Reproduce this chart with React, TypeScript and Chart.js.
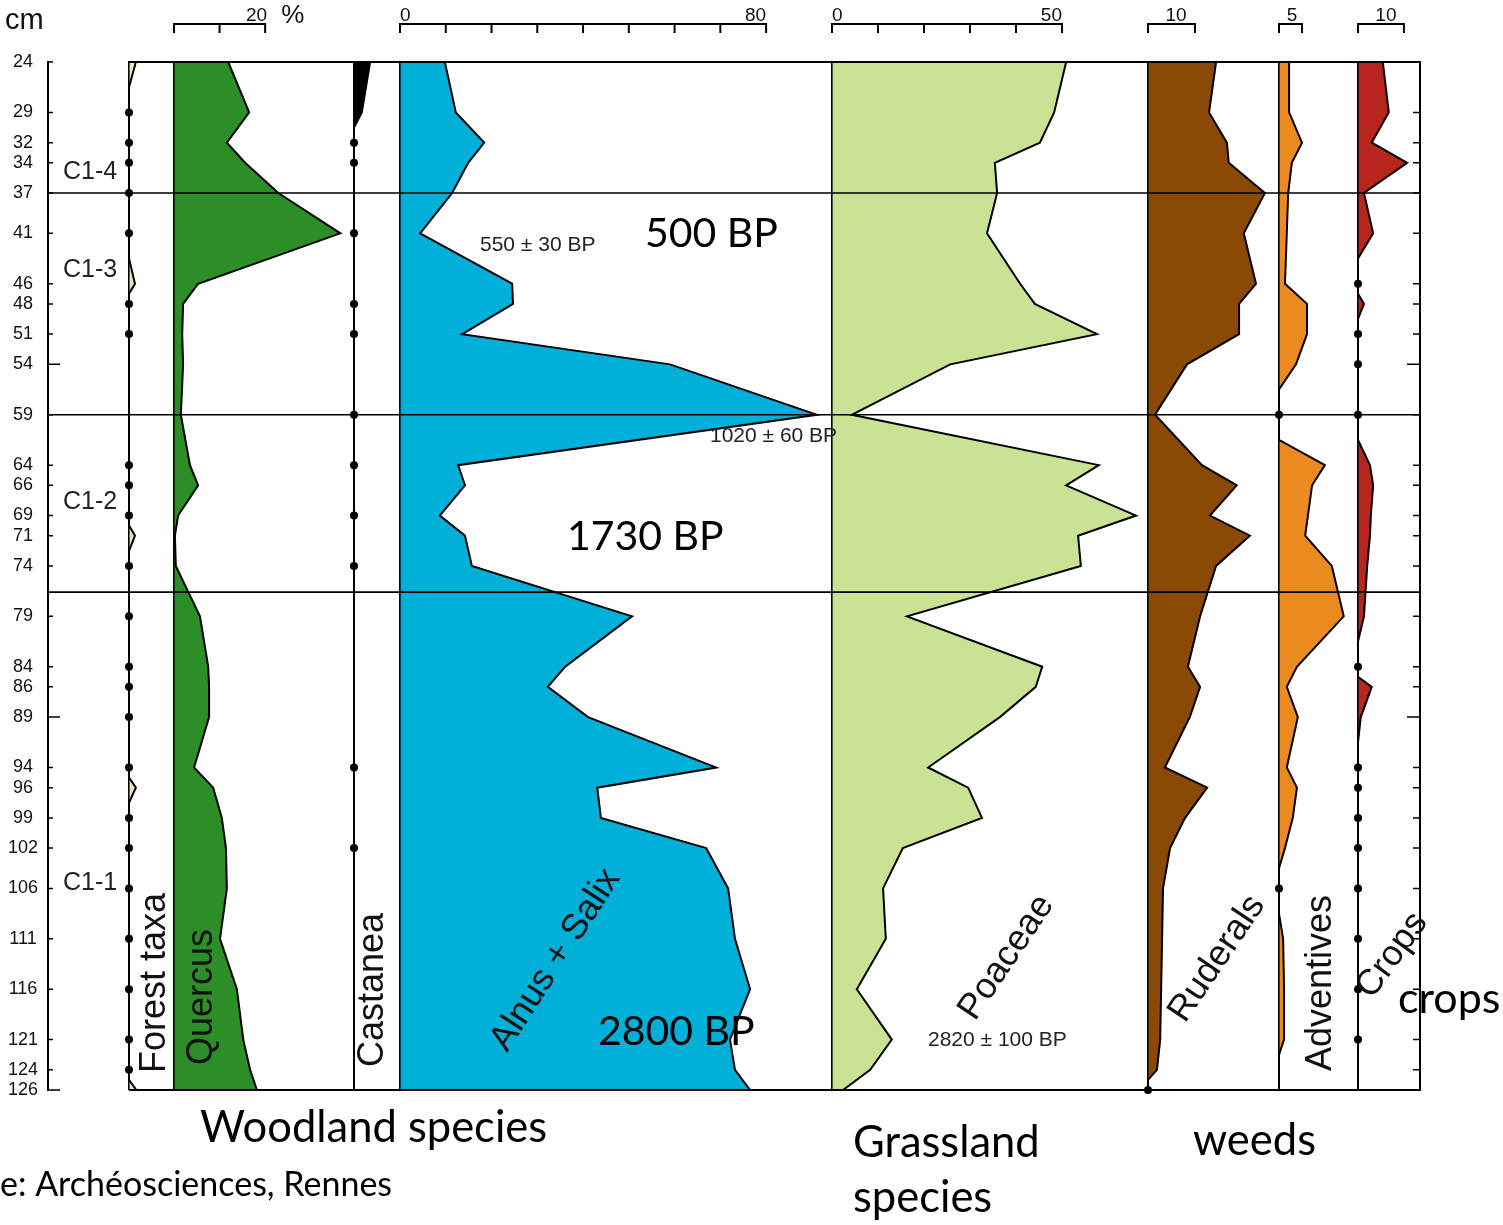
import React, { useEffect, useRef } from "react";
import { Chart, registerables } from "chart.js";

Chart.register(...registerables);

// ---------------- DATA ----------------
const depths = [24, 29, 32, 34, 37, 41, 46, 48, 51, 54, 59, 64, 66, 69, 71, 74, 79, 84, 86, 89, 94, 96, 99, 102, 106, 111, 116, 121, 124, 126];
const longTickDepths = [54, 89, 126];

const forestTaxa = [1.5, 0, 0, 0, 0, 0, 1.3, 0, 0, 0, 0, 0, 0, 0, 1.3, 0, 0, 0, 0, 0, 0, 1.5, 0, 0, 0, 0, 0, 0, 0, 1.6];
const quercus = [11.9, 16.5, 11.6, 15.6, 22.9, 36.5, 5.3, 2.0, 1.8, 2.0, 1.5, 3.5, 5.3, 0.9, 0.2, 0.4, 5.7, 7.5, 7.7, 7.7, 4.4, 8.6, 10.5, 11.4, 11.6, 10.1, 13.8, 15.2, 16.7, 18.2];
const castanea = [3.5, 1.7, 0, 0, 0, 0, 0, 0, 0, 0, 0, 0, 0, 0, 0, 0, 0, 0, 0, 0, 0, 0, 0, 0, 0, 0, 0, 0, 0, 0];
const alnusSalix = [9.8, 12.2, 18.4, 14.9, 11.4, 4.4, 24.5, 24.7, 13.6, 59.0, 91.1, 12.7, 14.2, 8.7, 14.2, 15.7, 50.7, 36.1, 32.3, 41.1, 69.1, 43.1, 43.9, 66.9, 71.7, 73.2, 76.5, 72.1, 73.2, 76.5];
const poaceae = [50.9, 48.3, 45.2, 35.4, 35.9, 33.7, 40.9, 44.1, 57.6, 25.7, 4.3, 58.0, 50.9, 66.1, 53.5, 54.1, 16.3, 45.7, 44.3, 36.5, 20.9, 29.6, 32.6, 15.4, 11.1, 11.7, 5.4, 13.0, 8.3, 2.4];
const ruderals = [14.5, 13.0, 16.8, 17.2, 24.9, 20.4, 23.0, 19.4, 19.4, 8.3, 1.5, 11.5, 18.9, 13.2, 21.7, 14.5, 11.1, 8.5, 11.1, 8.9, 3.6, 12.6, 7.9, 4.7, 3.2, 3.0, 2.8, 2.6, 1.9, 0];
const adventives = [2.2, 2.2, 5.0, 2.8, 2.0, 1.7, 1.3, 6.1, 6.1, 3.7, 0, 10.0, 7.2, 6.3, 5.7, 11.5, 14.1, 3.9, 1.7, 4.1, 1.7, 3.9, 3.0, 1.3, 0, 0.9, 1.1, 1.1, 0, 0];
const crops = [5.4, 6.7, 3.0, 10.7, 1.3, 3.3, 0, 1.3, 0, 0, 0, 2.6, 3.3, 2.8, 2.6, 2.0, 1.3, 0, 3.0, 0.6, 0, 0, 0, 0, 0, 0, 0, 0, 0, 0];

// depths where the taxon is present only as a trace (dot)
const forestTraces = [29, 32, 34, 37, 41, 48, 51, 64, 66, 69, 74, 79, 84, 86, 89, 94, 99, 102, 106, 111, 116, 121, 124];
const castaneaTraces = [32, 34, 41, 48, 51, 59, 64, 69, 74, 94, 102];
const ruderalsTraces = [126];
const adventivesTraces = [59, 106];
const cropsTraces = [46, 51, 54, 59, 84, 94, 96, 99, 102, 106, 111, 116, 121];

const zoneBounds = [37, 59, 76.6];
const zoneNames = ["C1-4", "C1-3", "C1-2", "C1-1"];
const zoneLabelDepths = [34.9, 44.6, 67.7, 105.5];

const quercusTicks = [0, 10, 20];
const alnusTicks = [0, 10, 20, 30, 40, 50, 60, 70, 80];
const poaceaeTicks = [0, 10, 20, 30, 40, 50];
const ruderalsTicks = [0, 10];
const adventivesTicks = [0, 5];
const cropsTicks = [0, 10];

const dateLabels = ["550 ± 30 BP", "1020 ± 60 BP", "2820 ± 100 BP"];
const periodLabels = ["500 BP", "1730 BP", "2800 BP"];

// ---------------- LAYOUT ----------------
type Col = {
  id: string; name: string; weight: number; max: number; color?: string;
  values?: number[]; traces?: number[]; ticks: number[]; labeled: number[];
  align?: string; labelOffset?: number; axisLine?: boolean;
};

const columns: Col[] = [
  { id: "xZones", name: "", weight: 81, max: 1, ticks: [], labeled: [] },
  { id: "xForest", name: "Forest taxa", weight: 45, max: 9.8, color: "#EFE4B8", values: forestTaxa, traces: forestTraces, ticks: [0], labeled: [] },
  { id: "xQuercus", name: "Quercus", weight: 180, max: 39.5, color: "#2C8E26", values: quercus, traces: [], ticks: quercusTicks, labeled: [20], align: "end", labelOffset: 2, axisLine: true },
  { id: "xCastanea", name: "Castanea", weight: 46, max: 10, color: "#000000", values: castanea, traces: castaneaTraces, ticks: [0], labeled: [] },
  { id: "xAlnus", name: "Alnus + Salix", weight: 432, max: 94.4, color: "#00B0D8", values: alnusSalix, traces: [], ticks: alnusTicks, labeled: [0, 80], align: "inner", labelOffset: 0, axisLine: true },
  { id: "xPoaceae", name: "Poaceae", weight: 316, max: 68.7, color: "#C9E294", values: poaceae, traces: [], ticks: poaceaeTicks, labeled: [0, 50], align: "inner", labelOffset: 0, axisLine: true },
  { id: "xRuderals", name: "Ruderals", weight: 131, max: 27.9, color: "#8A4A06", values: ruderals, traces: ruderalsTraces, ticks: ruderalsTicks, labeled: [10], align: "center", labelOffset: -19, axisLine: true },
  { id: "xAdventives", name: "Adventives", weight: 79, max: 17.2, color: "#EB8A1E", values: adventives, traces: adventivesTraces, ticks: adventivesTicks, labeled: [5], align: "center", labelOffset: -10, axisLine: true },
  { id: "xCrops", name: "Crops", weight: 62, max: 13.5, color: "#B7261D", values: crops, traces: cropsTraces, ticks: cropsTicks, labeled: [10], align: "center", labelOffset: -18, axisLine: true },
];

// column-name label placement (offset from column baseline, start y, angle in degrees)
const nameLayout: Record<string, [number, number, number]> = {
  xForest: [36, 1073, -90],
  xQuercus: [38, 1065, -90],
  xCastanea: [29, 1067, -90],
  xAlnus: [107, 1053, -57],
  xPoaceae: [143, 1022, -56],
  xRuderals: [37, 1024, -56],
  xAdventives: [52, 1071, -90],
  xCrops: [14, 1000, -54],
};

function curve(values: number[]) {
  const pts: { x: number; y: number }[] = [];
  for (let i = 0; i < depths.length; i++) {
    const v = values[i];
    if (i > 0) {
      const pv = values[i - 1];
      if ((pv === 0) !== (v === 0)) pts.push({ x: 0, y: (depths[i - 1] + depths[i]) / 2 });
    }
    pts.push({ x: v, y: depths[i] });
  }
  return pts;
}

const SANS = "'Liberation Sans', Arial, sans-serif";
const LATO = "Lato, 'Open Sans', sans-serif";

function txt(ctx: CanvasRenderingContext2D, s: string, x: number, y: number, font: string, opts: { align?: CanvasTextAlign; baseline?: CanvasTextBaseline; color?: string; angle?: number } = {}) {
  ctx.save();
  ctx.font = font;
  ctx.fillStyle = opts.color || "#000";
  ctx.textAlign = opts.align || "left";
  ctx.textBaseline = opts.baseline || "alphabetic";
  ctx.translate(x, y);
  if (opts.angle) ctx.rotate((opts.angle * Math.PI) / 180);
  ctx.fillText(s, 0, 0);
  ctx.restore();
}

const decor = {
  id: "decor",
  afterDraw(chart: any) {
    const ctx: CanvasRenderingContext2D = chart.ctx;
    const { left, right, bottom } = chart.chartArea;
    const ys = chart.scales.y;
    ctx.save();
    ctx.strokeStyle = "#000";
    ctx.lineCap = "butt";

    // top percentage axes
    ctx.lineWidth = 2;
    for (const c of columns) {
      if (!c.axisLine) continue;
      const s = chart.scales[c.id];
      const xs = c.ticks.map((v) => s.getPixelForValue(v));
      ctx.beginPath();
      ctx.moveTo(xs[0] - 1, 24);
      ctx.lineTo(xs[xs.length - 1] + 1, 24);
      for (const x of xs) {
        ctx.moveTo(x, 24);
        ctx.lineTo(x, 33);
      }
      ctx.stroke();
    }

    // bottom frame
    const fl = chart.scales.xForest.left;
    ctx.lineWidth = 2;
    ctx.beginPath();
    ctx.moveTo(fl, bottom);
    ctx.lineTo(right + 1, bottom);
    ctx.stroke();

    // depth ticks (inward, both sides)
    ctx.lineWidth = 1.5;
    ctx.beginPath();
    for (const d of depths) {
      const py = ys.getPixelForValue(d);
      const long = longTickDepths.includes(d);
      ctx.moveTo(left, py);
      ctx.lineTo(left + (long ? 12 : 5), py);
      ctx.moveTo(right, py);
      ctx.lineTo(right - (long ? 13 : 7), py);
    }
    ctx.stroke();

    // zone boundaries
    ctx.lineWidth = 1.6;
    ctx.beginPath();
    for (const z of zoneBounds) {
      const py = ys.getPixelForValue(z);
      ctx.moveTo(left, py);
      ctx.lineTo(right, py);
    }
    ctx.stroke();
    ctx.restore();

    // zone names
    zoneNames.forEach((n, i) => {
      txt(ctx, n, left + 15, ys.getPixelForValue(zoneLabelDepths[i]), `25px ${SANS}`, { baseline: "middle", color: "#222" });
    });

    // column names
    for (const c of columns) {
      const l = nameLayout[c.id];
      if (!l) continue;
      const s = chart.scales[c.id];
      txt(ctx, c.name, s.left + l[0], l[1], `36px ${SANS}`, { angle: l[2], color: "#111" });
    }

    // "cm" and "%"
    txt(ctx, "cm", 5, 29, `29px ${SANS}`, { color: "#111" });
    const q = chart.scales.xQuercus;
    txt(ctx, "%", q.getPixelForValue(20) + 16, 23, `26px ${SANS}`, { color: "#111" });

    // radiocarbon dates
    const a = chart.scales.xAlnus;
    const p = chart.scales.xPoaceae;
    txt(ctx, dateLabels[0], a.left + 80, ys.getPixelForValue(42.2), `21px ${SANS}`, { baseline: "middle", color: "#222" });
    txt(ctx, dateLabels[1], a.left + 310, ys.getPixelForValue(61.1), `21px ${SANS}`, { baseline: "middle", color: "#222" });
    txt(ctx, dateLabels[2], p.left + 96, ys.getPixelForValue(121.1), `21px ${SANS}`, { baseline: "middle", color: "#222" });

    // period annotations
    txt(ctx, periodLabels[0], 645, 247, `41px ${LATO}`);
    txt(ctx, periodLabels[1], 567, 550, `41px ${LATO}`);
    txt(ctx, periodLabels[2], 598, 1045, `41px ${LATO}`);

    // group captions
    txt(ctx, "Woodland species", 200, 1142, `43.5px ${LATO}`);
    txt(ctx, "Grassland", 853, 1157, `43.5px ${LATO}`);
    txt(ctx, "species", 853, 1212, `43.5px ${LATO}`);
    txt(ctx, "weeds", 1193, 1155, `43.5px ${LATO}`);
    txt(ctx, "crops", 1398, 1013, `43px ${LATO}`);
    txt(ctx, "e: Archéosciences, Rennes", 0, 1196, `34px ${LATO}`);
  },
};

export default function App() {
  const ref = useRef<HTMLCanvasElement>(null);
  useEffect(() => {
    const datasets: any[] = [];
    for (const c of columns) {
      if (!c.values) continue;
      datasets.push({
        type: "line",
        label: c.name,
        data: curve(c.values),
        xAxisID: c.id,
        yAxisID: "y",
        indexAxis: "y",
        borderColor: "#000",
        borderWidth: 2,
        backgroundColor: c.color,
        fill: "origin",
        pointRadius: 0,
        tension: 0,
        order: 2,
      });
      if (c.traces && c.traces.length) {
        datasets.push({
          type: "line",
          label: c.name + " traces",
          data: c.traces.map((d) => ({ x: 0, y: d })),
          xAxisID: c.id,
          yAxisID: "y",
          indexAxis: "y",
          showLine: false,
          pointRadius: 4,
          pointBackgroundColor: "#000",
          pointBorderWidth: 0,
          clip: 8,
          order: 1,
        });
      }
    }

    const scales: any = {};
    // top boxes are placed by Chart.js in reverse registration order
    for (const c of [...columns].reverse()) {
      const isZone = c.id === "xZones";
      scales[c.id] = {
        type: "linear",
        axis: "x",
        position: "top",
        stack: "cols",
        stackWeight: c.weight,
        min: 0,
        max: c.max,
        afterFit: (s: any) => { s.height = 62; },
        afterBuildTicks: (s: any) => { s.ticks = c.ticks.map((v) => ({ value: v })); },
        border: { display: !isZone, color: "#000", width: 2, z: 1 },
        grid: {
          display: !isZone,
          drawTicks: true,
          tickLength: 35,
          tickColor: "rgba(0,0,0,0)",
          z: 1,
          color: (ctx: any) => (ctx.tick && ctx.tick.value === 0 ? "#000" : "rgba(0,0,0,0)"),
          lineWidth: 1.6,
        },
        ticks: {
          display: c.labeled.length > 0,
          autoSkip: false,
          maxRotation: 0,
          align: c.align || "center",
          labelOffset: c.labelOffset || 0,
          padding: 0,
          color: "#111",
          font: { family: "'Liberation Sans', Arial, sans-serif", size: 19 },
          callback: (v: any) => (c.labeled.includes(v) ? String(v) : ""),
        },
      };
    }
    scales.y = {
      type: "linear",
      axis: "y",
      position: "left",
      reverse: true,
      min: 24,
      max: 126,
      afterFit: (s: any) => { s.width = 48; },
      afterBuildTicks: (s: any) => { s.ticks = depths.map((v) => ({ value: v })); },
      border: { display: true, color: "#000", width: 2 },
      grid: { drawOnChartArea: false, drawTicks: false },
      ticks: {
        autoSkip: false,
        crossAlign: "center",
        padding: 10,
        color: "#111",
        font: { family: "'Liberation Sans', Arial, sans-serif", size: 18 },
        callback: (v: any) => String(v),
      },
    };
    scales.yRight = {
      type: "linear",
      axis: "y",
      position: "right",
      reverse: true,
      min: 24,
      max: 126,
      afterFit: (s: any) => { s.width = 83; },
      border: { display: true, color: "#000", width: 2 },
      grid: { drawOnChartArea: false, drawTicks: false },
      ticks: { display: false },
    };

    const chart = new Chart(ref.current!, {
      type: "line",
      data: { datasets },
      options: {
        indexAxis: "y",
        animation: false,
        responsive: false,
        devicePixelRatio: 1,
        layout: { padding: { left: 0, right: 0, top: 0, bottom: 135 } },
        plugins: { legend: { display: false }, tooltip: { enabled: false } },
        scales,
      } as any,
      plugins: [decor],
    });
    return () => chart.destroy();
  }, []);

  return (
    <div style={{ position: "absolute", left: 0, top: 0, width: 1503, height: 1225, background: "#fff" }}>
      <canvas ref={ref} width={1503} height={1225} style={{ display: "block", width: 1503, height: 1225 }} />
    </div>
  );
}
